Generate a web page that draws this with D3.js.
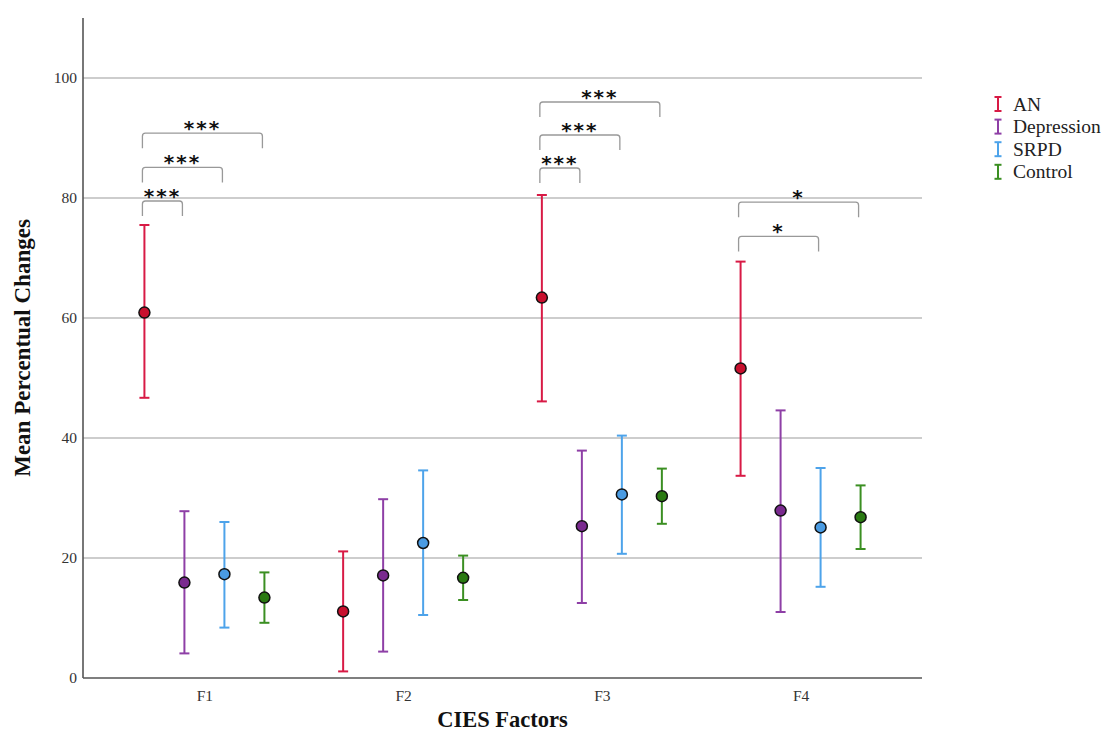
<!DOCTYPE html>
<html><head><meta charset="utf-8">
<script src="https://cdn.jsdelivr.net/npm/d3@7"></script>
<style>body{margin:0;background:#fff}svg{display:block}</style>
</head><body>
<svg id="c" width="1105" height="734"></svg>
<script>
const factors = ["F1","F2","F3","F4"];
const groups = ["AN","Depression","SRPD","Control"];
const lineColors = ["#d81a45","#8e3fa6","#4da3ea","#3b8f22"];
const dotColors = ["#c8102e","#7a2a8f","#4a9be2","#2a7a12"];
// mean, lower, upper per group per factor
const meanAN = [60.9, 11.1, 63.4, 51.6];
const lowAN  = [46.7, 1.1, 46.1, 33.7];
const highAN = [75.5, 21.1, 80.5, 69.4];
const meanDep = [15.9, 17.1, 25.3, 27.9];
const lowDep  = [4.1, 4.4, 12.5, 11.0];
const highDep = [27.8, 29.8, 37.9, 44.6];
const meanSRPD = [17.3, 22.5, 30.6, 25.1];
const lowSRPD  = [8.4, 10.5, 20.7, 15.2];
const highSRPD = [26.0, 34.6, 40.4, 35.0];
const meanCtrl = [13.4, 16.7, 30.3, 26.8];
const lowCtrl  = [9.2, 13.0, 25.7, 21.5];
const highCtrl = [17.6, 20.4, 34.9, 32.1];
const yTicks = [0,20,40,60,80,100];
// significance brackets: factor, group from, group to, level (data units), label
const brFactor = ["F1","F1","F1","F3","F3","F3","F4","F4"];
const brFrom   = ["AN","AN","AN","AN","AN","AN","AN","AN"];
const brTo     = ["Depression","SRPD","Control","Depression","SRPD","Control","SRPD","Control"];
const brLevel  = [79.5, 85.1, 90.8, 85.0, 90.5, 96.0, 73.6, 79.3];
const brLabel  = ["***","***","***","***","***","***","*","*"];

const means = [meanAN, meanDep, meanSRPD, meanCtrl];
const lows = [lowAN, lowDep, lowSRPD, lowCtrl];
const highs = [highAN, highDep, highSRPD, highCtrl];

const svg = d3.select("#c");
const L = 83, R = 922, T = 18, B = 678;
const x = d3.scalePoint().domain(factors).range([L, R]).padding(0.611);
const off = d3.scalePoint().domain(groups).range([-60, 60]);
const y = d3.scaleLinear().domain([0, 110]).range([B, T]);
const serif = "'Liberation Serif','Times New Roman',serif";

// gridlines
svg.append("g").selectAll("line").data(yTicks.filter(d=>d>0)).join("line")
  .attr("x1", L).attr("x2", R).attr("y1", d=>y(d)).attr("y2", d=>y(d))
  .attr("stroke", "#bdbdbd").attr("stroke-width", 1.5);

// y axis
const ya = svg.append("g").attr("transform", `translate(${L},0)`)
  .call(d3.axisLeft(y).tickValues(yTicks).tickSize(0).tickPadding(6));
ya.select(".domain").remove();
ya.selectAll("text").attr("font-family", serif).attr("font-size", 15.5).attr("fill", "#333");
svg.append("line").attr("x1", L).attr("x2", L).attr("y1", T).attr("y2", B)
  .attr("stroke", "#555").attr("stroke-width", 1.6);

// x axis
const xa = svg.append("g").attr("transform", `translate(0,${B})`)
  .call(d3.axisBottom(x).tickSize(0).tickPadding(12));
xa.select(".domain").remove();
xa.selectAll("text").attr("font-family", serif).attr("font-size", 15.5).attr("fill", "#333");
svg.append("line").attr("x1", L).attr("x2", R).attr("y1", B).attr("y2", B)
  .attr("stroke", "#555").attr("stroke-width", 1.6);

// titles
svg.append("text").attr("x", (L+R)/2).attr("y", 727).attr("text-anchor","middle")
  .attr("font-family", serif).attr("font-weight","bold").attr("font-size", 22.5).attr("fill","#111")
  .text("CIES Factors");
svg.append("text").attr("transform", `translate(30,${(T+B)/2}) rotate(-90)`).attr("text-anchor","middle")
  .attr("font-family", serif).attr("font-weight","bold").attr("font-size", 23).attr("fill","#111")
  .text("Mean Percentual Changes");

// error bars
const pts = [];
groups.forEach((g, gi) => factors.forEach((f, fi) => {
  pts.push({g, gi, f, m: means[gi][fi], lo: lows[gi][fi], hi: highs[gi][fi]});
}));
const eb = svg.append("g");
const cap = 5;
pts.forEach(p => {
  const cx = x(p.f) + off(p.g);
  const gg = eb.append("g").attr("stroke", lineColors[p.gi]).attr("stroke-width", 2);
  gg.append("line").attr("x1", cx).attr("x2", cx).attr("y1", y(p.lo)).attr("y2", y(p.hi));
  gg.append("line").attr("x1", cx-cap).attr("x2", cx+cap).attr("y1", y(p.lo)).attr("y2", y(p.lo));
  gg.append("line").attr("x1", cx-cap).attr("x2", cx+cap).attr("y1", y(p.hi)).attr("y2", y(p.hi));
});
svg.append("g").selectAll("circle").data(pts).join("circle")
  .attr("cx", p => x(p.f) + off(p.g)).attr("cy", p => y(p.m)).attr("r", 5.5)
  .attr("fill", p => dotColors[p.gi]).attr("stroke", "#111").attr("stroke-width", 1.5);

// brackets
const legLen = 15;
const bg = svg.append("g");
brFactor.forEach((f, i) => {
  const x1 = x(f) + off(brFrom[i]) - 2, x2 = x(f) + off(brTo[i]) - 2;
  const yt = y(brLevel[i]);
  const r = 3;
  bg.append("path")
    .attr("d", `M${x1},${yt+legLen} V${yt+r} Q${x1},${yt} ${x1+r},${yt} H${x2-r} Q${x2},${yt} ${x2},${yt+r} V${yt+legLen}`)
    .attr("fill","none").attr("stroke","#999").attr("stroke-width",1.3);
  bg.append("text").attr("x", (x1+x2)/2).attr("y", yt+2).attr("text-anchor","middle")
    .attr("font-family","'DejaVu Sans',sans-serif").attr("font-weight","bold").attr("font-size", 20)
    .attr("letter-spacing", 2).attr("fill","#111").text(brLabel[i]);
});

// legend
const lg = svg.append("g").attr("transform","translate(998,104)");
groups.forEach((g, i) => {
  const yy = i * 22.6;
  const it = lg.append("g").attr("transform", `translate(0,${yy})`);
  it.append("line").attr("x1",0).attr("x2",0).attr("y1",-7).attr("y2",7).attr("stroke",lineColors[i]).attr("stroke-width",2);
  it.append("line").attr("x1",-3.5).attr("x2",3.5).attr("y1",-7).attr("y2",-7).attr("stroke",lineColors[i]).attr("stroke-width",2);
  it.append("line").attr("x1",-3.5).attr("x2",3.5).attr("y1",7).attr("y2",7).attr("stroke",lineColors[i]).attr("stroke-width",2);
  it.append("text").attr("x", 15).attr("y", 6.5).attr("font-family", serif).attr("font-size", 19.5)
    .attr("fill","#222").text(g);
});
</script>
</body></html>
